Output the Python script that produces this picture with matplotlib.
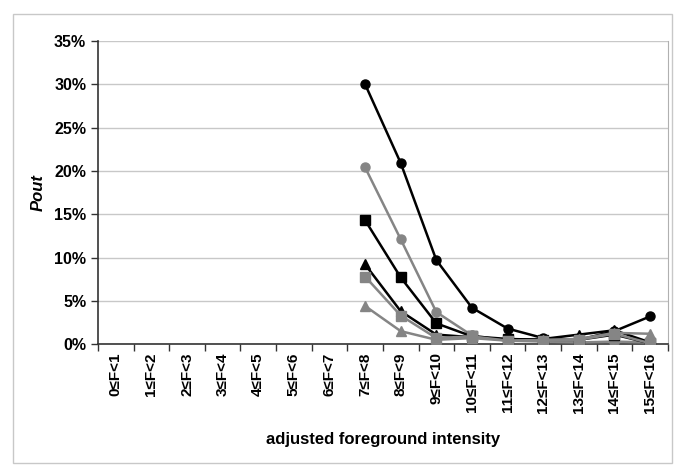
import matplotlib
matplotlib.use('Agg')
import matplotlib.pyplot as plt
import matplotlib.patches as mpatches
import numpy as np

plt.rcParams['font.family'] = ['Liberation Sans', 'DejaVu Sans']

# Categories (adjusted foreground intensity bins)
categories = [f'{i}\u2264F<{i+1}' for i in range(16)]
start = 7  # data begins at bin 7

# Pout values in % for bins 7..15
black_circle = [30.0, 20.9, 9.7, 4.2, 1.8, 0.7, 0.5, 1.5, 3.2]
gray_circle = [20.4, 12.1, 3.7, 1.0, 0.4, 0.3, 0.2, 0.3, 0.2]
black_square = [14.3, 7.7, 2.4, 0.9, 0.6, 0.5, 0.5, 1.1, 0.1]
black_triangle = [9.2, 3.8, 1.1, 0.8, 0.5, 0.6, 1.1, 1.6, 0.2]
gray_square = [7.8, 3.3, 0.7, 0.9, 0.4, 0.4, 0.5, 1.2, 0.1]
gray_triangle = [4.4, 1.5, 0.5, 0.7, 0.4, 0.5, 0.6, 1.3, 1.2]

fig = plt.figure(figsize=(6.85, 4.76), dpi=100)
ax = fig.add_axes([0.143, 0.277, 0.832, 0.637])

# outer frame
fig.patches.append(mpatches.Rectangle((0.019, 0.027), 0.962, 0.943, transform=fig.transFigure,
                                      fill=False, edgecolor='#c8c8c8', linewidth=1.0))

x = np.arange(start, 16)
gray = '#858585'
series = [
    (black_circle, 'black', 'o'),
    (gray_circle, gray, 'o'),
    (black_square, 'black', 's'),
    (black_triangle, 'black', '^'),
    (gray_square, gray, 's'),
    (gray_triangle, gray, '^'),
]
for vals, col, mk in series:
    ax.plot(x, np.array(vals) / 100, color=col, marker=mk, markersize=6.5,
            linewidth=1.8, markeredgecolor=col, zorder=3)

ax.set_xlim(-0.5, 15.5)
ax.set_ylim(0, 0.35)
ax.set_yticks(np.arange(0, 0.351, 0.05))
ax.set_yticklabels([f'{int(round(v*100))}%' for v in np.arange(0, 0.351, 0.05)],
                   fontsize=11.5, fontweight='bold')
ax.set_xticks(np.arange(16))
ax.set_xticklabels(categories, rotation=90, fontsize=11, fontweight='bold')
ax.set_xticks(np.arange(-0.5, 16, 1), minor=True)
ax.tick_params(axis='x', which='major', length=0, pad=6)
ax.tick_params(axis='x', which='minor', length=5, width=1, color='#333333', direction='out')
ax.tick_params(axis='y', length=5, width=1, color='#333333', direction='out')

ax.grid(axis='y', color='#c8c8c8', linewidth=1)
ax.set_axisbelow(True)
ax.spines['top'].set_visible(False)
ax.spines['right'].set_color('#b0b0b0')
ax.spines['left'].set_color('#333333')
ax.spines['bottom'].set_color('#333333')
ax.spines['left'].set_linewidth(1.2)
ax.spines['bottom'].set_linewidth(1.2)

ax.set_ylabel('Pout', fontsize=12, fontweight='bold', style='italic', labelpad=6)
ax.set_xlabel('adjusted foreground intensity', fontsize=12, fontweight='bold', labelpad=14)

plt.savefig('out.png', dpi=100)
plt.close()
